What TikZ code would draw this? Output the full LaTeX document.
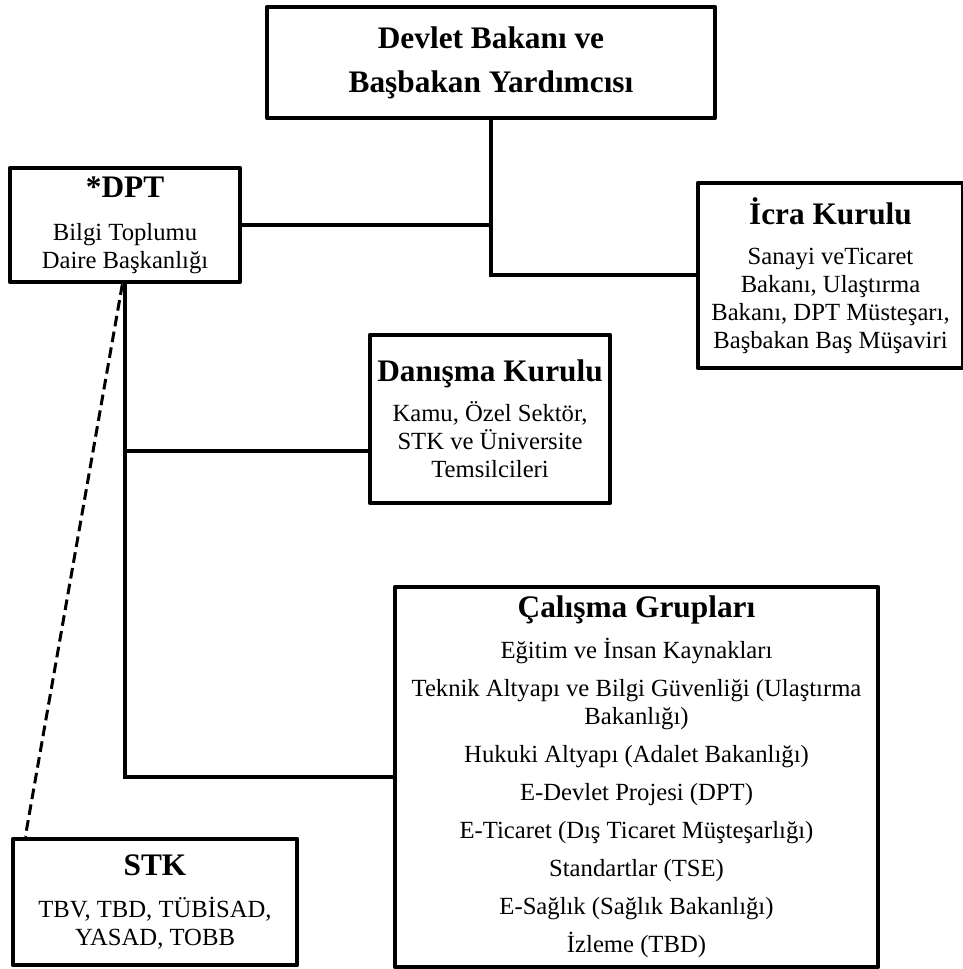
\documentclass[tikz,border=0pt]{standalone}
\usepackage{fontspec}
\setmainfont{Liberation Serif}
\usetikzlibrary{calc}

\newcommand{\kutubaslik}[1]{{\bfseries\fontsize{23.5}{26}\selectfont #1}}

\begin{document}
\begin{tikzpicture}[x=0.75pt,y=0.75pt,yscale=-1,xscale=1,
  kutu/.style={draw,line width=3.5pt,line join=round,inner sep=0pt,align=center,
    font=\fontsize{18.5}{21}\selectfont},
  hat/.style={line width=3pt},
  kesik/.style={line width=2.25pt,dash pattern={on 8pt off 4pt}}]
%set diagram to the size of the page
\useasboundingbox (0,0) rectangle (962,969);

%Shape: Rectangle [top]
\node (bakan) [kutu,minimum width=336pt,minimum height=83.25pt,
  font=\bfseries\fontsize{23.5}{30}\selectfont] at (491,62.5)
  {Devlet Bakanı ve\\[3pt]Başbakan Yardımcısı};
%Shape: Rectangle [dpt]
\node (dpt) [kutu,minimum width=172.5pt,minimum height=85.5pt] at (125,225)
  {\kutubaslik{*DPT}\\[11pt]Bilgi Toplumu\\Daire Başkanlığı};
%Shape: Rectangle [icra]
\node (icra) [kutu,minimum width=198.75pt,minimum height=138.75pt] at (830.5,275.5)
  {\kutubaslik{İcra Kurulu}\\[9pt]Sanayi veTicaret\\Bakanı, Ulaştırma\\Bakanı, DPT Müsteşarı,\\Başbakan Baş Müşaviri};
%Shape: Rectangle [danisma]
\node (danisma) [kutu,minimum width=180pt,minimum height=126pt] at (490,419)
  {\kutubaslik{Danışma Kurulu}\\[9pt]Kamu, Özel Sektör,\\STK ve Üniversite\\Temsilcileri};
%Shape: Rectangle [calisma]
\node (calisma) [kutu,minimum width=362.25pt,minimum height=285pt] at (636.5,777)
  {\kutubaslik{Çalışma Grupları}\\[10pt]Eğitim ve İnsan Kaynakları\\[7.5pt]
   Teknik Altyapı ve Bilgi Güvenliği (Ulaştırma\\Bakanlığı)\\[7.5pt]
   Hukuki Altyapı (Adalet Bakanlığı)\\[7.5pt]
   E-Devlet Projesi (DPT)\\[7.5pt]
   E-Ticaret (Dış Ticaret Müşteşarlığı)\\[7.5pt]
   Standartlar (TSE)\\[7.5pt]
   E-Sağlık (Sağlık Bakanlığı)\\[7.5pt]
   İzleme (TBD)};
%Shape: Rectangle [stk]
\node (stk) [kutu,minimum width=213pt,minimum height=94.5pt] at (155,902)
  {\kutubaslik{STK}\\[10.5pt]TBV, TBD, TÜBİSAD,\\YASAD, TOBB};

%Straight Lines
\draw [hat] (bakan.south) |- (icra.west);
\draw [hat] (dpt.east) -- (dpt.east -| bakan.south);
\draw [hat] (dpt.south) |- (calisma.west);
\draw [hat] ([yshift=24pt]danisma.west) -- ([yshift=24pt]danisma.west -| dpt.south);
%Dashed Line
\draw [kesik] ([xshift=-2pt]dpt.south) -- ([xshift=11pt]stk.north west);

\end{tikzpicture}
\end{document}
